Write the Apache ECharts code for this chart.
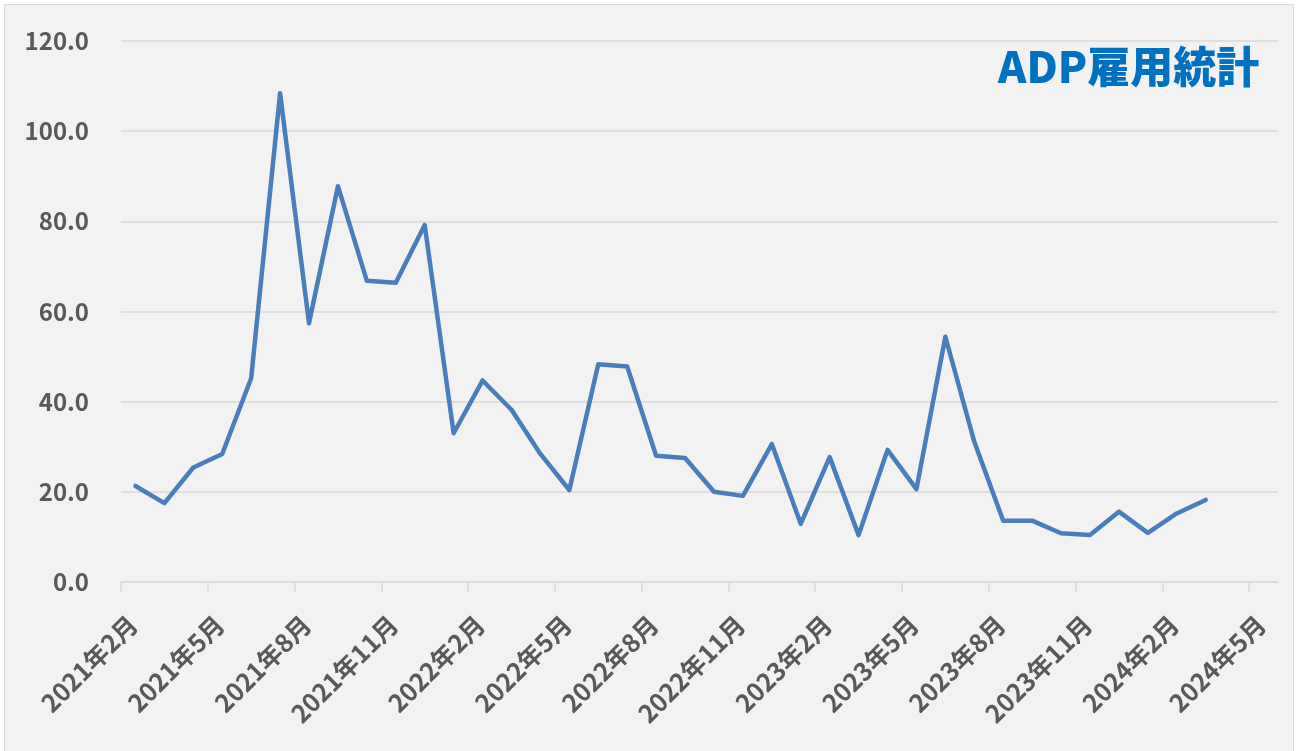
<!DOCTYPE html>
<html>
<head>
<meta charset="utf-8">
<script src="https://cdn.jsdelivr.net/npm/echarts@6/dist/echarts.min.js"></script>
<style>
html,body{margin:0;padding:0;background:#ffffff;width:1306px;height:751px;overflow:hidden;}
#frame{position:absolute;left:4px;top:4px;width:1288px;height:760px;background:#f2f2f2;border:1px solid #d9d9d9;}
#chart{position:absolute;left:0;top:0;width:1306px;height:751px;}
</style>
</head>
<body>
<div id="frame"></div>
<div id="chart"></div>
<script>
const chartTitle = 'ADP雇用統計';
const months = [
  '2021年2月','2021年3月','2021年4月','2021年5月','2021年6月','2021年7月','2021年8月','2021年9月','2021年10月','2021年11月','2021年12月',
  '2022年1月','2022年2月','2022年3月','2022年4月','2022年5月','2022年6月','2022年7月','2022年8月','2022年9月','2022年10月','2022年11月','2022年12月',
  '2023年1月','2023年2月','2023年3月','2023年4月','2023年5月','2023年6月','2023年7月','2023年8月','2023年9月','2023年10月','2023年11月','2023年12月',
  '2024年1月','2024年2月','2024年3月'
];
const values = [
  21.3, 17.5, 25.4, 28.4, 45.2, 108.4, 57.4, 87.8, 66.8, 66.4, 79.2,
  33.0, 44.7, 38.2, 28.4, 20.4, 48.3, 47.8, 28.0, 27.5, 20.0, 19.1, 30.6,
  12.9, 27.7, 10.4, 29.3, 20.6, 54.4, 31.1, 13.6, 13.6, 10.8, 10.4, 15.6,
  10.9, 15.2, 18.2
];
const tickLabels = ['2021年2月','2021年5月','2021年8月','2021年11月','2022年2月','2022年5月','2022年8月','2022年11月','2023年2月','2023年5月','2023年8月','2023年11月','2024年2月','2024年5月'];
const yTicks = [0, 20, 40, 60, 80, 100, 120];

const tickPos = tickLabels.map((_, i) => i * 3);
const seriesData = months.map((m, i) => [i + 0.5, values[i]]);
const font = '"Noto Sans CJK JP", "Noto Sans", sans-serif';

const chart = echarts.init(document.getElementById('chart'));
chart.setOption({
  animation: false,
  backgroundColor: 'transparent',
  title: {
    text: chartTitle,
    left: 998,
    top: 45,
    padding: 0,
    textStyle: { color: '#0070c0', fontSize: 43, fontWeight: 900, fontFamily: font }
  },
  grid: { left: 121, right: 28, top: 41, bottom: 169, containLabel: false },
  xAxis: {
    type: 'value',
    min: 0,
    max: tickLabels.length * 3 - 2,
    splitLine: { show: false },
    axisLine: { show: true, lineStyle: { color: '#d9d9d9', width: 1.5 } },
    axisTick: { show: true, customValues: tickPos, length: 10, lineStyle: { color: '#d9d9d9', width: 1.5 } },
    axisLabel: {
      customValues: tickPos,
      formatter: v => tickLabels[Math.round(v / 3)],
      rotate: 45,
      margin: 26,
      verticalAlign: 'top',
      lineHeight: 34,
      color: '#595959',
      fontSize: 25,
      fontWeight: 'bold',
      fontFamily: font
    }
  },
  yAxis: {
    type: 'value',
    min: yTicks[0],
    max: yTicks[yTicks.length - 1],
    interval: yTicks[1] - yTicks[0],
    axisLine: { show: false },
    axisTick: { show: false },
    splitLine: { show: true, lineStyle: { color: '#d9d9d9', width: 1.5 } },
    axisLabel: {
      formatter: v => v.toFixed(1),
      margin: 32,
      color: '#595959',
      fontSize: 24,
      fontWeight: 'bold',
      fontFamily: font
    }
  },
  series: [{
    type: 'line',
    data: seriesData,
    showSymbol: false,
    symbol: 'none',
    lineStyle: { color: '#4a7ebb', width: 4.5, join: 'round', cap: 'round' }
  }]
});
</script>
</body>
</html>
